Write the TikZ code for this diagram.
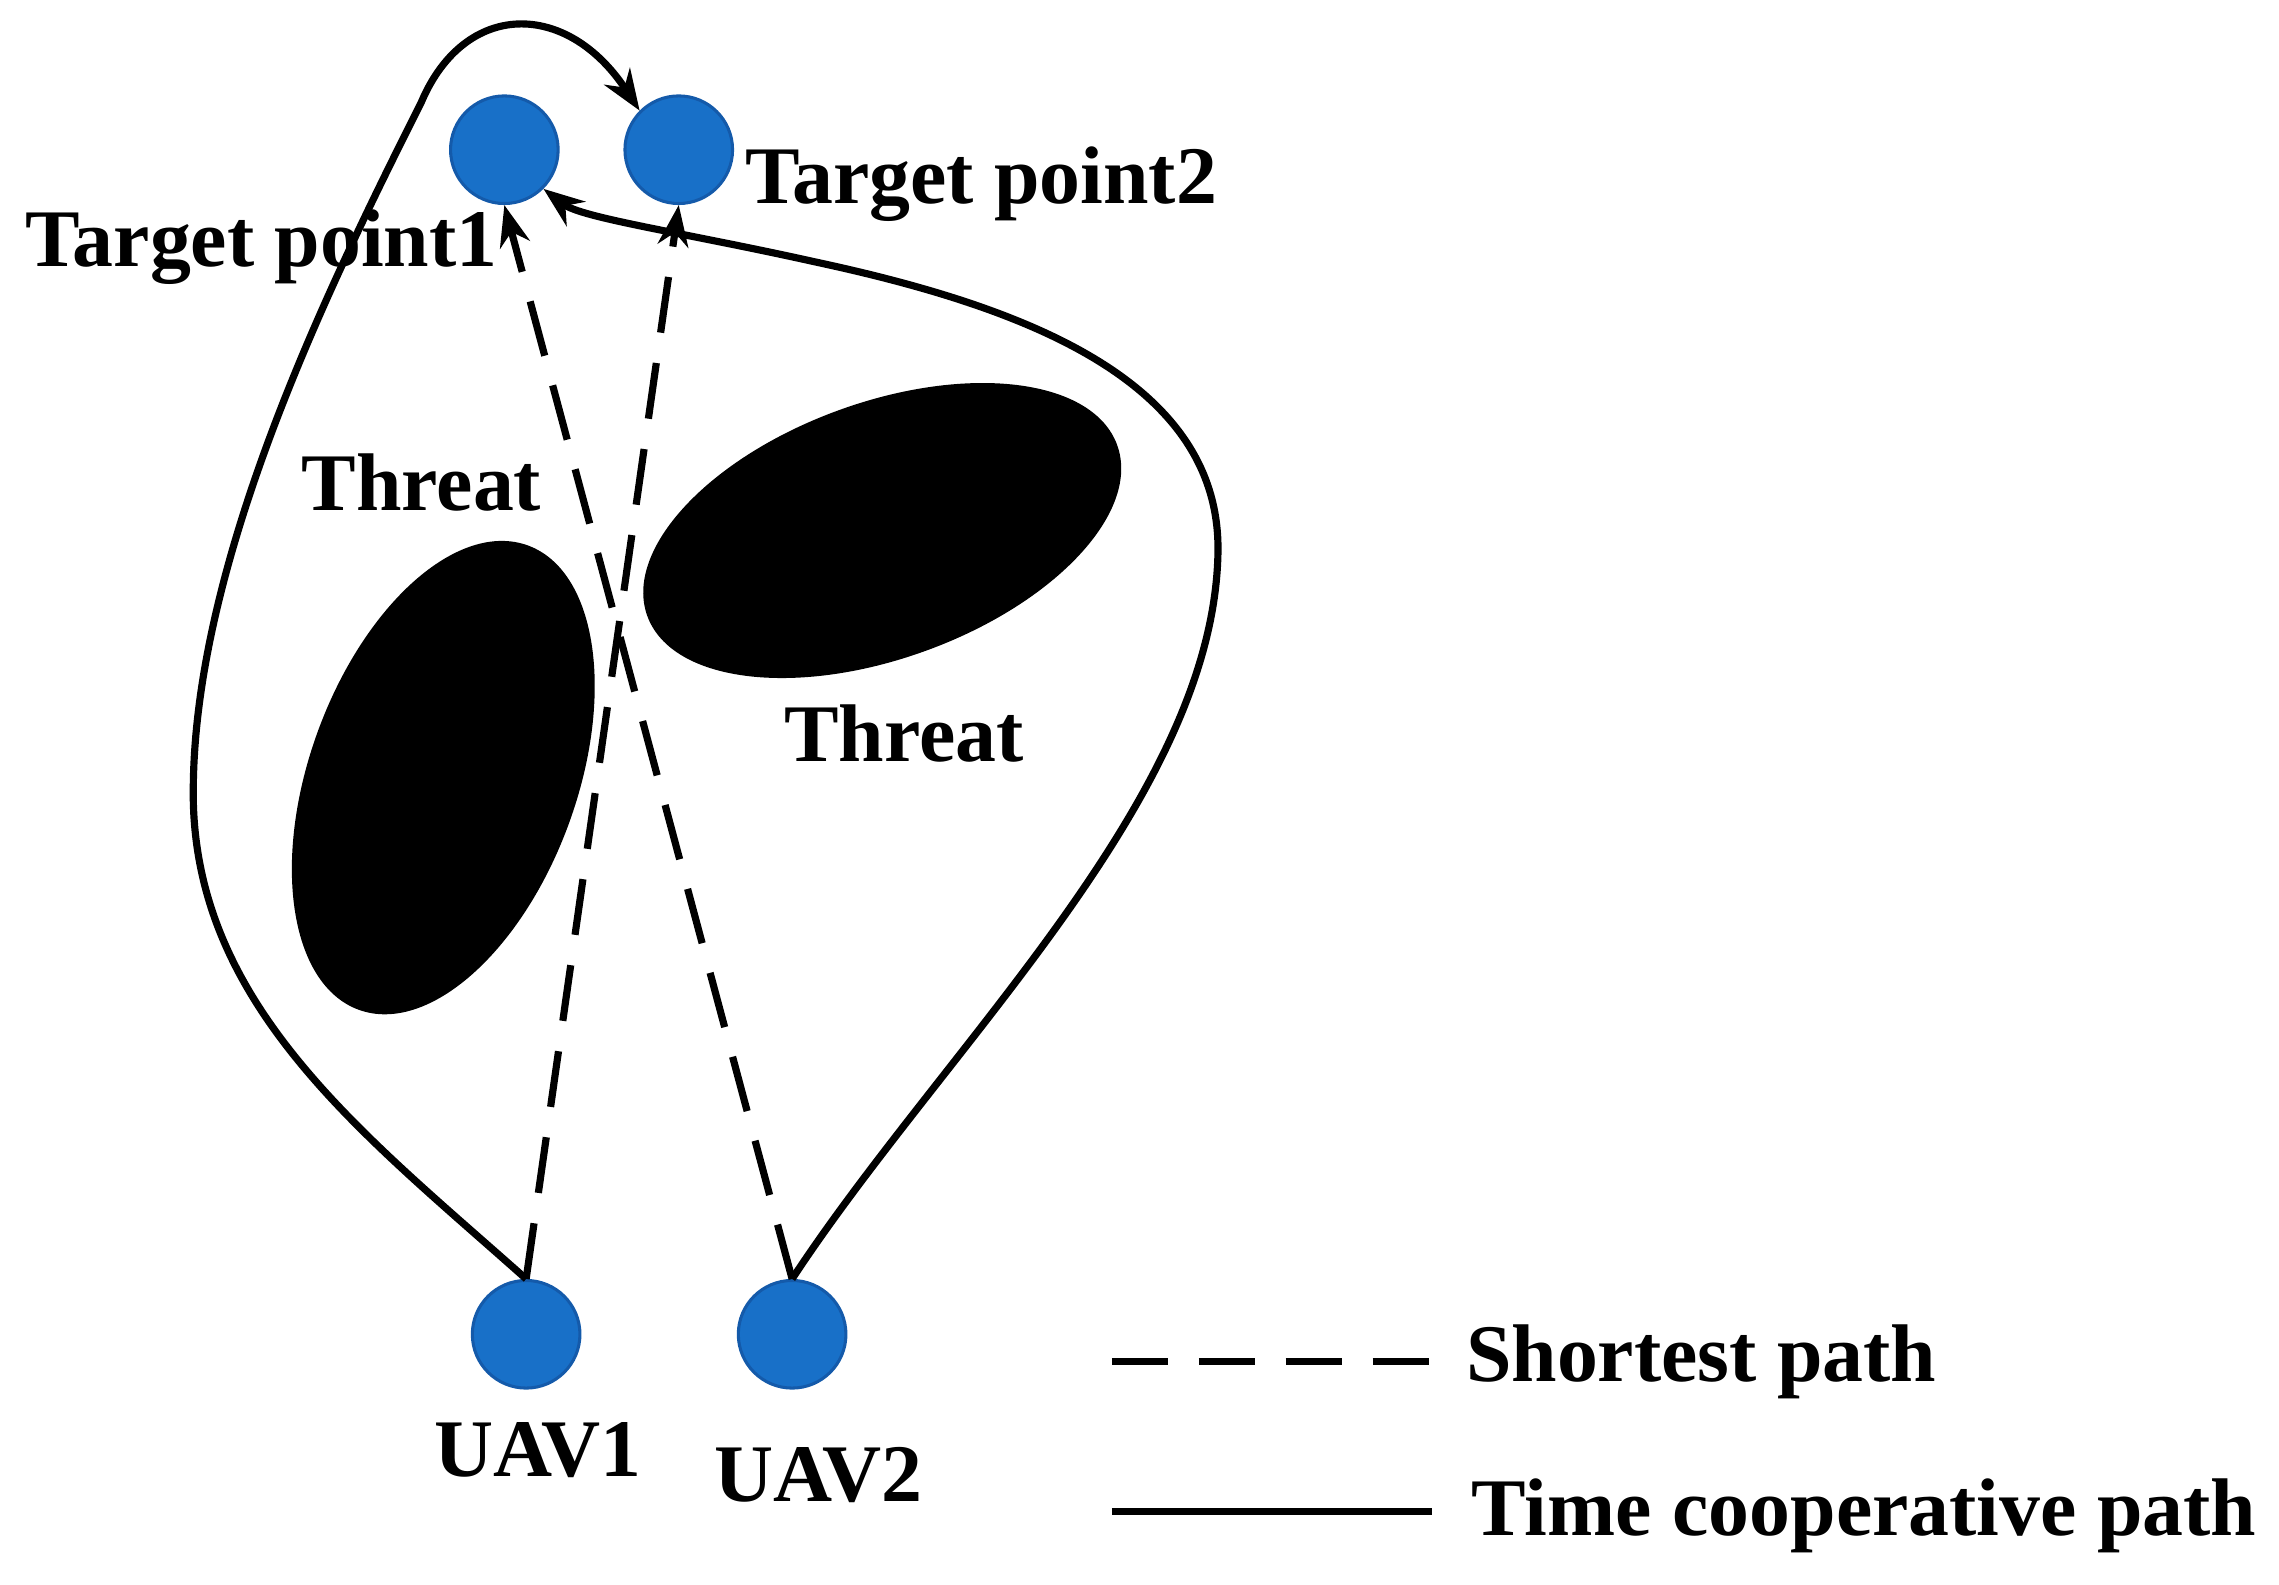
\documentclass[tikz,border=0pt]{standalone}
\usepackage{fontspec}
\setmainfont{Liberation Serif}
\usetikzlibrary{arrows.meta}
\begin{document}
\begin{tikzpicture}[x=0.01cm,y=-0.01cm,
  pt/.style={circle,fill={rgb,255:red,24;green,112;blue,200},draw={rgb,255:red,20;green,90;blue,170},line width=0.6pt,minimum width=0.74cm,minimum height=0.72cm,inner sep=0pt},
  lbl/.style={font=\bfseries\fontsize{16}{18}\selectfont,inner sep=0pt},
  path/.style={line width=1.4pt},
  dsh/.style={line width=1.4pt,dash pattern=on 11pt off 6pt},
  arr/.style={-{Stealth[length=8pt,width=6pt]}}]
\useasboundingbox (0,0) rectangle (1568,1090);
\fill[rotate around={-20:(305,535)}] (305,535) ellipse [x radius=92,y radius=170];
\fill[rotate around={20:(607,365)}] (607,365) ellipse [x radius=172,y radius=88];
\node[pt] (t1) at (347,103) {};
\node[pt] (t2) at (467,103) {};
\node[pt] (u1) at (362,918) {};
\node[pt] (u2) at (545,918) {};
\node[lbl] at (180,170) {Target point1};
\node[lbl] at (675,127) {Target point2};
\node[lbl] at (370,998) {UAV1};
\node[lbl] at (563,1015) {UAV2};
\node[lbl] at (290,332) {Threat};
\node[lbl] at (622,505) {Threat};
\coordinate (a1) at (133,540);
\coordinate (a2) at (290,70);
\coordinate (b1) at (838,380);
\coordinate (b2) at (560,180);
\draw[path,arr] (u1.north) .. controls (250,780) and (130,690) .. (a1)
  .. controls (135,380) and (230,190) .. (a2)
  .. controls (320,0) and (390,0) .. (t2.north west);
\draw[path,arr] (u2.north) .. controls (650,720) and (835,550) .. (b1)
  .. controls (840,260) and (700,210) .. (b2)
  .. controls (470,160) and (400,150) .. (t1.south east);
\draw[dsh,arr] (u1.north) -- (t2.south);
\draw[dsh,arr] (u2.north) -- (t1.south);
\coordinate (l1a) at (765,937); \coordinate (l1b) at (985,937);
\coordinate (l2a) at (765,1040); \coordinate (l2b) at (985,1040);
\draw[dsh] (l1a) -- (l1b);
\draw[path] (l2a) -- (l2b);
\node[lbl,anchor=west] at (1008,937) {Shortest path};
\node[lbl,anchor=west] at (1012,1043) {Time cooperative path};
\end{tikzpicture}
\end{document}
